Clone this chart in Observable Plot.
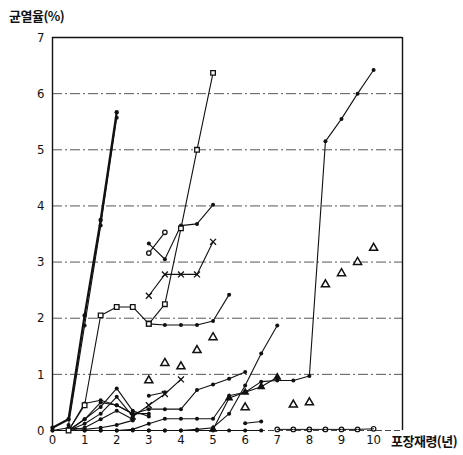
<!DOCTYPE html>
<html><head><meta charset="utf-8">
<script src="https://cdn.jsdelivr.net/npm/d3@7"></script>
<script src="https://cdn.jsdelivr.net/npm/@observablehq/plot@0.6"></script>
<style>
body{margin:0;background:#fff;}
#wrap{position:relative;width:463px;height:455px;overflow:hidden;}
.lab{position:absolute;font-family:"Noto Sans CJK KR","Noto Sans",sans-serif;font-weight:bold;font-size:13px;color:#111;white-space:nowrap;line-height:1;letter-spacing:-0.5px;}
svg text{font-stretch:condensed;}
</style></head>
<body><div id="wrap"></div>
<script>
// --- data (x = 포장재령(년), y = 균열율(%)) ---
const yTicks = [0,1,2,3,4,5,6,7];
const xTicks = [0,1,2,3,4,5,6,7,8,9,10];
const gridLevels = [1,2,3,4,5,6];
const yLabel = "균열율(%)";
const xLabel = "포장재령(년)";

const steepA = [[0,0.05],[0.5,0.2],[1,2.05],[1.5,3.75],[2,5.67]];
const steepB = [[0.5,0.1],[1,1.87],[1.5,3.65],[2,5.57]];
const squaresA = [[0.5,0],[1,0.45],[1.5,2.05],[2,2.2],[2.5,2.2],[3,1.9]];
const squaresB = [[3,1.9],[3.5,2.25],[4,3.6],[4.5,5.0],[5,6.37]];
const flat19 = [[3,1.9],[3.5,1.88],[4,1.88],[4.5,1.88],[5,1.95],[5.5,2.42]];
const circShort = [[3,3.16],[3.5,3.53]];
const dots33 = [[3,3.33],[3.5,3.05],[4,3.65],[4.5,3.68],[5,4.02]];
const cross24 = [[3,2.4],[3.5,2.78],[4,2.78],[4.5,2.78],[5,3.36]];
const jumpLine = [[0.5,0],[1,0],[1.5,0],[2,0],[2.5,0.02],[3,0.12],[3.5,0.21],[4,0.21],[4.5,0.21],[5,0.21],[5.5,0.62],[6,0.68],[6.5,0.87],[7,0.89],[7.5,0.89],[8,0.97],[8.5,5.15],[9,5.55],[9.5,6.0],[10,6.42]];
const midLine = [[0.5,0],[1,0.2],[1.5,0.5],[2,0.45],[2.5,0.3],[3,0.38],[3.5,0.38],[4,0.38],[4.5,0.72],[5,0.82],[5.5,0.92],[6,1.04]];
const riseLine = [[3,0],[3.5,0],[4,0],[4.5,0.02],[5,0.05],[5.5,0.3],[6,0.8],[6.5,1.37],[7,1.87]];
const dotsShort = [[3,0.62],[3.5,0.68]];
const crossLow = [[2.5,0.25],[3,0.45],[3.5,0.65],[4,0.91]];
const triLine = [[5,0.02],[5.5,0.58],[6,0.68],[6.5,0.78],[7,0.95]];
const tinyLine = [[6,0.13],[6.5,0.16]];
const fanA = [[0.5,0],[1,0.48],[1.5,0.54],[2,0.45],[2.5,0.3],[3,0.3]];
const fanB = [[0.5,0],[1,0.2],[1.5,0.42],[2,0.75],[2.5,0.35],[3,0.25]];
const fanC = [[0.5,0],[1,0.12],[1.5,0.3],[2,0.6],[2.5,0.25]];
const fanD = [[0.5,0],[1,0.05],[1.5,0.2],[2,0.35],[2.5,0.2]];
const fanE = [[0,0.0],[0.5,0.05],[1,0.02],[1.5,0.05],[2,0.1],[2.5,0.18]];
const baseDots = [[0,0],[0.5,0],[1,0],[1.5,0],[2,0],[2.5,0],[3,0],[3.5,0],[4,0],[4.5,0],[5,0],[5.5,0],[6,0],[6.5,0]];
const baseCircles = [[7,0.02],[7.5,0.02],[8,0.02],[8.5,0.02],[9,0.02],[9.5,0.02],[10,0.03]];
const openTriangles = [[3,0.89],[3.5,1.2],[4,1.14],[4.5,1.43],[5,1.66],[6,0.41],[7.5,0.46],[8,0.5],[8.5,2.6],[9,2.8],[9.5,3.0],[10,3.25]];

const toRows = (pts, name) => pts.map(([x,y]) => ({x, y, name}));
const lineSeries = [
  ["steepB", steepB, "dot"], ["squaresA", squaresA, "square"], ["squaresB", squaresB, "square"],
  ["flat19", flat19, "dot"], ["circShort", circShort, "circle"], ["dots33", dots33, "dot"],
  ["cross24", cross24, "times"], ["jumpLine", jumpLine, "dot"], ["midLine", midLine, "dot"],
  ["riseLine", riseLine, "dot"], ["dotsShort", dotsShort, "dot"], ["crossLow", crossLow, "times"],
  ["triLine", triLine, "triangle"], ["tinyLine", tinyLine, "dot"], ["fanA", fanA, "dot"],
  ["fanB", fanB, "dot"], ["fanC", fanC, "dot"], ["fanD", fanD, "dot"], ["fanE", fanE, "dot"],
  ["baseDots", baseDots, "dot"]
];
const thinRows = lineSeries.flatMap(([n, p]) => toRows(p, n));
const markRows = (kind) => lineSeries.filter(d => d[2] === kind).flatMap(([n, p]) => toRows(p, n));

const chart = Plot.plot({
  width: 463, height: 455,
  marginLeft: 52, marginRight: 61, marginTop: 37, marginBottom: 25,
  style: {fontFamily: "'DejaVu Sans Condensed','Liberation Sans Narrow',sans-serif", fontSize: "13px", color: "#111", background: "#fff"},
  x: {domain: [0, 10.9], ticks: xTicks, tickSize: 0, tickPadding: 4, label: null, tickFormat: d => String(d)},
  y: {domain: [0, 7], ticks: yTicks, tickSize: 0, tickPadding: 8, label: null, tickFormat: d => String(d)},
  marks: [
    Plot.ruleY(gridLevels, {stroke: "#444", strokeWidth: 0.9, strokeDasharray: "10,3,2,3"}),
    Plot.ruleY([0], {stroke: "#333", strokeWidth: 0.9, strokeDasharray: "6,3"}),
    Plot.ruleY([7], {stroke: "#111", strokeWidth: 1.4}),
    Plot.ruleX([0], {stroke: "#111", strokeWidth: 1.4}),
    Plot.ruleX([10.9], {y1: 0, y2: 7, stroke: "#111", strokeWidth: 1.4}),
    Plot.line(thinRows, {x: "x", y: "y", z: "name", stroke: "#111", strokeWidth: 1.1}),
    Plot.line(toRows(steepA, "steepA"), {x: "x", y: "y", stroke: "#111", strokeWidth: 2.2}),
    Plot.dot(toRows(steepA, "steepA"), {x: "x", y: "y", r: 2.2, fill: "#111"}),
    Plot.dot(markRows("dot"), {x: "x", y: "y", r: 2, fill: "#111"}),
    Plot.dot(markRows("square"), {x: "x", y: "y", symbol: "square", r: 2.6, fill: "#fff", stroke: "#111", strokeWidth: 1.3}),
    Plot.dot(markRows("circle"), {x: "x", y: "y", r: 2.2, fill: "#fff", stroke: "#111", strokeWidth: 1.3}),
    Plot.dot(markRows("times"), {x: "x", y: "y", symbol: "times", r: 2.8, stroke: "#111", strokeWidth: 1.3}),
    Plot.dot(markRows("triangle"), {x: "x", y: "y", symbol: "triangle", r: 2.2, fill: "#111", stroke: "#111"}),
    Plot.dot(toRows(baseCircles, "baseCircles"), {x: "x", y: "y", r: 2.3, fill: "#fff", stroke: "#111", strokeWidth: 1.2}),
    Plot.line(toRows(baseCircles, "baseCircles"), {x: "x", y: "y", stroke: "#111", strokeWidth: 1}),
    Plot.dot(toRows(openTriangles, "tri"), {x: "x", y: "y", symbol: "triangle", r: 3, fill: "#fff", stroke: "#111", strokeWidth: 1.5})
  ]
});
const wrap = document.getElementById("wrap");
wrap.appendChild(chart);
const yl = document.createElement("div"); yl.className = "lab"; yl.textContent = yLabel;
yl.style.left = "9px"; yl.style.top = "9px"; wrap.appendChild(yl);
const xl = document.createElement("div"); xl.className = "lab"; xl.textContent = xLabel;
xl.style.left = "391px"; xl.style.top = "434px"; wrap.appendChild(xl);
</script></body></html>
